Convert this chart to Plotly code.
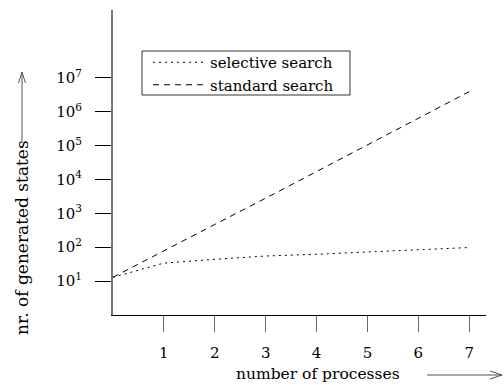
import plotly.graph_objects as go

processes = [0, 1, 2, 3, 4, 5, 6, 7]
selective = [13, 34, 44, 55, 62, 72, 85, 98]
standard = [13, 80, 470, 2800, 17000, 100000, 630000, 3900000]
y_tick_vals = [1e1, 1e2, 1e3, 1e4, 1e5, 1e6, 1e7]
y_tick_text = ["10<sup>1</sup>", "10<sup>2</sup>", "10<sup>3</sup>", "10<sup>4</sup>",
               "10<sup>5</sup>", "10<sup>6</sup>", "10<sup>7</sup>"]
x_tick_vals = [1, 2, 3, 4, 5, 6, 7]

FONT = "DejaVu Serif"
W, H = 504, 385
L, R, T, B = 113, 18, 10, 70
pw, ph = W - L - R, H - T - B

def px(x):
    return (x - L) / pw

def py(y):
    return (H - B - y) / ph

fig = go.Figure()
fig.add_trace(go.Scatter(x=processes, y=selective, mode="lines", name="selective search",
                         line=dict(color="black", width=1, dash="2px,4px")))
fig.add_trace(go.Scatter(x=processes, y=standard, mode="lines", name="standard search",
                         line=dict(color="black", width=1, dash="6px,5px")))

shapes = []
def seg(x0, y0, x1, y1, color="#555", w=1):
    shapes.append(dict(type="line", xref="paper", yref="paper",
                       x0=px(x0), y0=py(y0), x1=px(x1), y1=py(y1),
                       line=dict(color=color, width=w)))

# legend box
shapes.append(dict(type="rect", xref="paper", yref="paper", layer="below",
                   x0=px(142), x1=px(350), y0=py(51), y1=py(95),
                   fillcolor="white", line=dict(color="#333", width=1)))
# y-title arrow
seg(22, 143, 22, 72)
seg(22, 72, 18.5, 83)
seg(22, 72, 25.5, 83)
# x-title arrow
seg(427, 375, 502, 375)
seg(502, 375, 490, 371)
seg(502, 375, 490, 379)

fig.update_layout(
    width=W, height=H,
    margin=dict(l=L, r=R, t=T, b=B, autoexpand=False),
    paper_bgcolor="white", plot_bgcolor="white",
    font=dict(family=FONT, size=14, color="black"),
    showlegend=True,
    legend=dict(x=px(148), y=py(46), xanchor="left", yanchor="top",
                borderwidth=0, bgcolor="rgba(0,0,0,0)",
                font=dict(family=FONT, size=15), tracegroupgap=0,
                itemwidth=52),
    shapes=shapes,
    annotations=[
        dict(text="nr. of generated states", xref="paper", yref="paper",
             x=px(22), y=py(238), xanchor="center", yanchor="middle",
             textangle=-90, showarrow=False,
             font=dict(family=FONT, size=17)),
        dict(text="number of processes", xref="paper", yref="paper",
             x=px(318), y=py(374), xanchor="center", yanchor="middle",
             showarrow=False,
             font=dict(family=FONT, size=15.5)),
    ],
)
fig.update_xaxes(range=[0, 7.33], showgrid=False, zeroline=False,
                 showline=True, linecolor="black", linewidth=1,
                 tickmode="array", tickvals=x_tick_vals,
                 ticks="outside", ticklen=16, tickcolor="#666", tickwidth=1,
                 ticklabelstandoff=8, tickfont=dict(family=FONT, size=15))
fig.update_yaxes(type="log", range=[0, 9], showgrid=False, zeroline=False,
                 showline=True, linecolor="#777", linewidth=2,
                 tickmode="array", tickvals=y_tick_vals, ticktext=y_tick_text,
                 ticks="outside", ticklen=16, tickcolor="black", tickwidth=1,
                 ticklabelstandoff=10, tickfont=dict(family=FONT, size=15))

fig.write_html("out.html", config={"displayModeBar": False},
               post_script="document.body.style.margin='0';")
